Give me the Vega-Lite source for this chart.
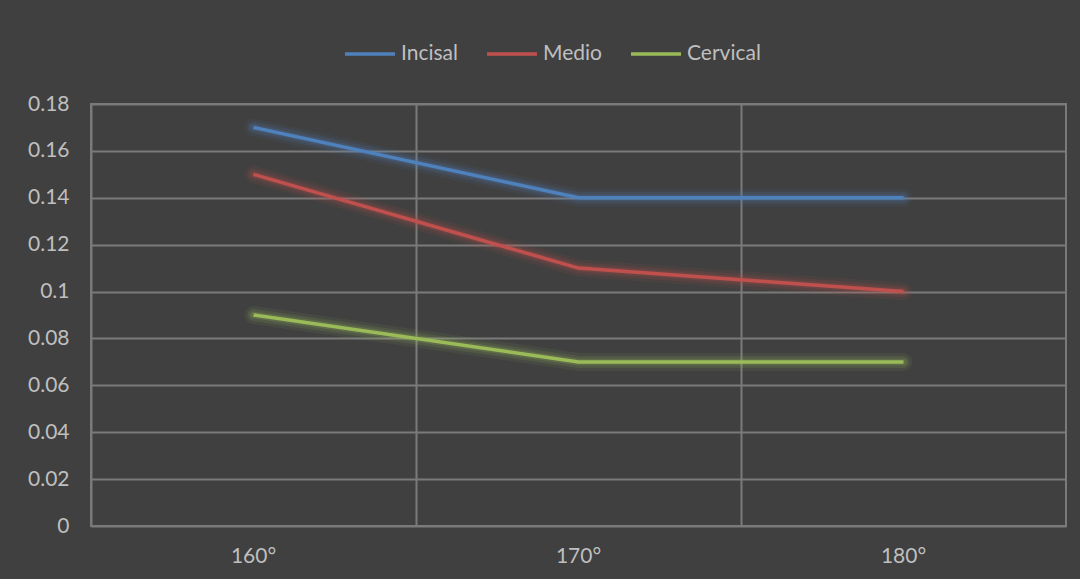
{
  "$schema": "https://vega.github.io/schema/vega-lite/v6.json",
  "autosize": {"type": "none"},
  "width": 975,
  "height": 422,
  "padding": {"left": 91, "top": 104, "right": 14, "bottom": 53},
  "background": "#404040",
  "config": {
    "view": {"stroke": "#7a7a7a", "strokeWidth": 2},
    "font": "Lato",
    "axis": {"labelFont": "Lato", "labelFontSize": 21, "labelColor": "#bfbfbf", "gridColor": "#7a7a7a", "gridWidth": 2, "gridOpacity": 1, "ticks": false, "domain": false, "title": null},
    "legend": {"labelFont": "Lato", "labelFontSize": 21, "labelColor": "#bfbfbf"}
  },
  "data": {
    "values": [
      {"angle": "160°", "series": "Incisal", "value": 0.17},
      {"angle": "170°", "series": "Incisal", "value": 0.14},
      {"angle": "180°", "series": "Incisal", "value": 0.14},
      {"angle": "160°", "series": "Medio", "value": 0.15},
      {"angle": "170°", "series": "Medio", "value": 0.11},
      {"angle": "180°", "series": "Medio", "value": 0.10},
      {"angle": "160°", "series": "Cervical", "value": 0.09},
      {"angle": "170°", "series": "Cervical", "value": 0.07},
      {"angle": "180°", "series": "Cervical", "value": 0.07}
    ]
  },
  "encoding": {
    "x": {"field": "angle", "type": "nominal", "sort": null, "scale": {"type": "band", "paddingInner": 0, "paddingOuter": 0}, "axis": {"labelAngle": 0, "labelPadding": 19, "bandPosition": 0, "grid": true, "title": null}},
    "y": {"field": "value", "type": "quantitative", "scale": {"domain": [0, 0.18], "nice": false}, "axis": {"values": [0, 0.02, 0.04, 0.06, 0.08, 0.1, 0.12, 0.14, 0.16, 0.18], "format": "~g", "labelPadding": 22, "title": null}},
    "color": {"field": "series", "type": "nominal", "sort": ["Incisal", "Medio", "Cervical"], "scale": {"domain": ["Incisal", "Medio", "Cervical"], "range": ["#4f81bd", "#c0504d", "#9bbb59"]},
      "legend": {"title": null, "orient": "none", "direction": "horizontal", "legendX": 252, "legendY": -77, "symbolType": "stroke", "symbolSize": 2500, "symbolStrokeWidth": 3.5, "symbolOpacity": 1, "columnPadding": 22, "labelOffset": 4}}
  },
  "layer": [
    {"mark": {"type": "line", "strokeWidth": 18, "opacity": 0.08, "strokeCap": "round"}},
    {"mark": {"type": "line", "strokeWidth": 12, "opacity": 0.12, "strokeCap": "round"}},
    {"mark": {"type": "line", "strokeWidth": 7, "opacity": 0.2, "strokeCap": "round"}},
    {"mark": {"type": "line", "strokeWidth": 3.5, "opacity": 1}}
  ]
}
